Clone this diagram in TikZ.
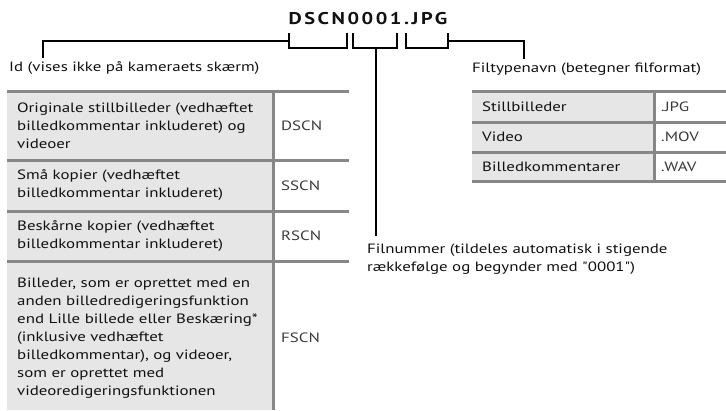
\documentclass[tikz,border=0pt]{standalone}
\usepackage{fontspec}
\setmainfont{PT Sans}[FakeStretch=1.25]
\newfontfamily\plainfont{PT Sans}[FakeStretch=1.25]
\newfontfamily\titlefont{PT Sans}[LetterSpace=15,FakeStretch=1.2]
\definecolor{cellgray}{HTML}{E6E6E6}
\definecolor{rulegray}{HTML}{878787}
\definecolor{txt}{HTML}{111111}
\definecolor{codetxt}{HTML}{3A3A3A}
\begin{document}
\begin{tikzpicture}[x=1pt,y=-1pt,
  rulel/.style={draw=rulegray,line width=3pt},
  brk/.style={draw=black,line width=1.8pt},
  celltxt/.style={anchor=west,inner sep=0pt,align=left,text=txt,font=\fontsize{13.5}{18}\selectfont},
  codetext/.style={anchor=west,inner sep=0pt,text=codetxt,font=\fontsize{13.5}{16}\selectfont},
  lbl/.style={anchor=base west,inner sep=0pt,text=txt,font=\fontsize{13.5}{18}\selectfont}]
\useasboundingbox (0,0) rectangle (726,410);
% title
\node[anchor=base,inner sep=0pt,text=txt,font=\titlefont\bfseries\fontsize{17}{20}\selectfont] (title) at (368,24) {DSCN0001.JPG};
% labels
\node[lbl] (idlbl) at (9,71) {Id (vises ikke på kameraets skærm)};
\node[lbl] (extlbl) at (472,72) {Filtypenavn (betegner filformat)};
\node[celltxt,font=\plainfont\fontsize{13.5}{18.5}\selectfont] (numlbl) at (367,259) {Filnummer (tildeles automatisk i stigende\\rækkefølge og begynder med "0001")};
% brackets
\coordinate (b1l) at (289,41);
\coordinate (b3r) at (448,41);
\draw[brk] (43,58) -- (43,41) -- (b1l);
\draw[brk] (289,33) -- (289,48) -- (347,48) -- (347,33);
\draw[brk] (353,33) -- (353,48) -- (397,48) -- (397,33);
\draw[brk] (406,33) -- (406,48) -- (448,48) -- (448,33);
\draw[brk] (b3r) -- (524,41) -- (524,59);
\draw[brk] (376,48) -- (376,236);
% left table
\fill[cellgray] (7,91) rectangle (273,410);
\draw[rulel] (7,91) -- (349,91);
\draw[rulel] (7,160) -- (349,160);
\draw[rulel] (7,211) -- (349,211);
\draw[rulel] (7,261) -- (349,261);
\draw[rulel] (273,89.5) -- (273,410);
\node[celltxt] (c11) at (17,125.5) {Originale stillbilleder (vedhæftet\\billedkommentar inkluderet) og\\videoer};
\node[codetext] (c12) at (281,125.5) {DSCN};
\node[celltxt] (c21) at (17,185.5) {Små kopier (vedhæftet\\billedkommentar inkluderet)};
\node[codetext] (c22) at (281,185.5) {SSCN};
\node[celltxt] (c31) at (17,236) {Beskårne kopier (vedhæftet\\billedkommentar inkluderet)};
\node[codetext] (c32) at (281,236) {RSCN};
\node[celltxt] (c41) at (17,338) {Billeder, som er oprettet med en\\anden billedredigeringsfunktion\\end Lille billede eller Beskæring*\\(inklusive vedhæftet\\billedkommentar), og videoer,\\som er oprettet med\\videoredigeringsfunktionen};
\node[codetext] (c42) at (281,338) {FSCN};
% right table
\fill[cellgray] (472,91) rectangle (654,181);
\draw[rulel] (472,91) -- (726,91);
\draw[rulel] (472,122) -- (726,122);
\draw[rulel] (472,152) -- (726,152);
\draw[rulel] (472,181) -- (726,181);
\draw[rulel] (654,89.5) -- (654,182.5);
\node[celltxt] (e11) at (482,106.5) {Stillbilleder};
\node[codetext] (e12) at (661,106.5) {.JPG};
\node[celltxt] (e21) at (482,137) {Video};
\node[codetext] (e22) at (661,137) {.MOV};
\node[celltxt] (e31) at (482,166.5) {Billedkommentarer};
\node[codetext] (e32) at (661,166.5) {.WAV};
\end{tikzpicture}
\end{document}
